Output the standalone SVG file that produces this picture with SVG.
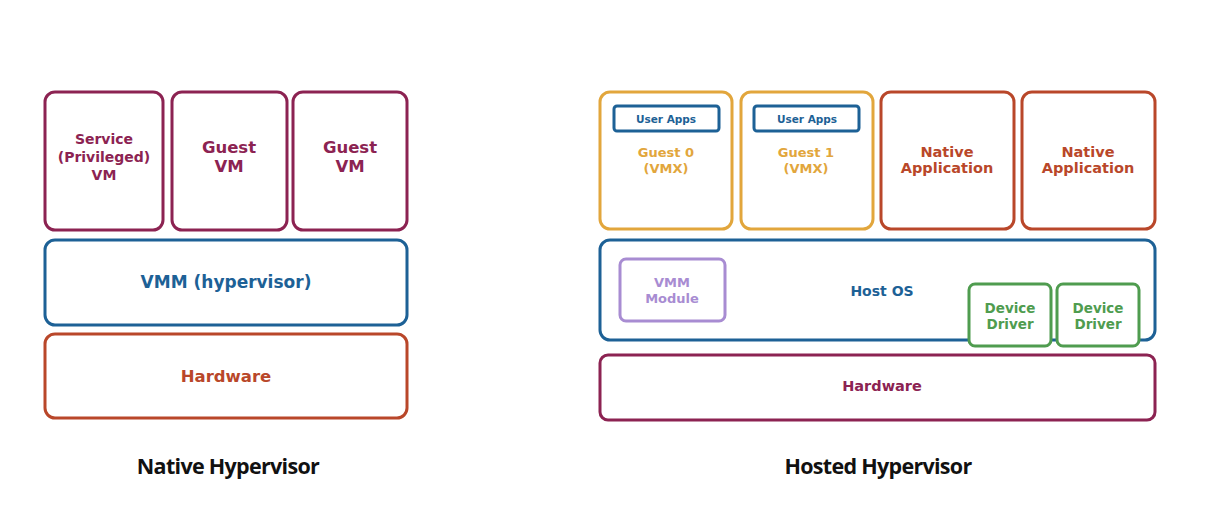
<svg xmlns="http://www.w3.org/2000/svg" width="1222" height="519" viewBox="0 0 1222 519">
<style>
.b{fill:#fff;stroke-width:3}
.t{font-family:"DejaVu Sans","Liberation Sans",sans-serif;font-weight:bold;text-anchor:middle}
.m{stroke:#8c2352}.mt{fill:#8c2352}
.bl{stroke:#1d6196}.blt{fill:#1d6196}
.r{stroke:#b9472a}.rt{fill:#b9472a}
.g{stroke:#e2a63c}.gt{fill:#e2a63c}
.p{stroke:#a88cd2}.pt{fill:#a88cd2}
.gr{stroke:#4f9c4f}.grt{fill:#4f9c4f}
.cap{font-family:"Open Sans","Noto Sans",sans-serif;font-weight:bold;font-size:21.5px;fill:#111;text-anchor:middle;letter-spacing:-0.7px}
</style>
<rect width="1222" height="519" fill="#fff"/>
<g id="native">
<g id="service-vm"><rect class="b m" x="45" y="92" width="118" height="138" rx="10"/>
<text class="t mt" font-size="14"><tspan x="104" y="144">Service</tspan><tspan x="104" y="162">(Privileged)</tspan><tspan x="104" y="180">VM</tspan></text></g>
<g id="guest-vm-1"><rect class="b m" x="172" y="92" width="115" height="138" rx="10"/>
<text class="t mt" font-size="16.5"><tspan x="229" y="153">Guest</tspan><tspan x="229" y="172">VM</tspan></text></g>
<g id="guest-vm-2"><rect class="b m" x="293" y="92" width="114" height="138" rx="10"/>
<text class="t mt" font-size="16.5"><tspan x="350" y="153">Guest</tspan><tspan x="350" y="172">VM</tspan></text></g>
<g id="vmm"><rect class="b bl" x="45" y="240" width="362" height="85" rx="10"/>
<text class="t blt" font-size="17" x="226" y="288">VMM (hypervisor)</text></g>
<g id="hardware-native"><rect class="b r" x="45" y="334" width="362" height="84" rx="10"/>
<text class="t rt" font-size="16.5" x="226" y="382">Hardware</text></g>
</g>
<g id="hosted">
<g id="guest0"><rect class="b g" x="600" y="92" width="132" height="137" rx="10"/>
<rect class="b bl" x="614" y="106" width="105" height="25" rx="3" stroke-width="2.5"/>
<text class="t blt" font-size="10.5" x="666" y="123">User Apps</text>
<text class="t gt" font-size="13"><tspan x="666" y="157">Guest 0</tspan><tspan x="666" y="173">(VMX)</tspan></text></g>
<g id="guest1"><rect class="b g" x="741" y="92" width="132" height="137" rx="10"/>
<rect class="b bl" x="754" y="106" width="105" height="25" rx="3" stroke-width="2.5"/>
<text class="t blt" font-size="10.5" x="807" y="123">User Apps</text>
<text class="t gt" font-size="13"><tspan x="806" y="157">Guest 1</tspan><tspan x="806" y="173">(VMX)</tspan></text></g>
<g id="native-app-1"><rect class="b r" x="881" y="92" width="133" height="137" rx="10"/>
<text class="t rt" font-size="14.5"><tspan x="947" y="157">Native</tspan><tspan x="947" y="173">Application</tspan></text></g>
<g id="native-app-2"><rect class="b r" x="1022" y="92" width="133" height="137" rx="10"/>
<text class="t rt" font-size="14.5"><tspan x="1088" y="157">Native</tspan><tspan x="1088" y="173">Application</tspan></text></g>
<g id="host-os"><rect class="b bl" x="600" y="240" width="555" height="100" rx="10"/>
<text class="t blt" font-size="14" x="882" y="296">Host OS</text></g>
<g id="vmm-module"><rect class="b p" x="620" y="259" width="105" height="62" rx="6"/>
<text class="t pt" font-size="13"><tspan x="672" y="287">VMM</tspan><tspan x="672" y="303">Module</tspan></text></g>
<g id="device-driver-1"><rect class="b gr" x="969" y="284" width="82" height="62" rx="6"/>
<text class="t grt" font-size="13.5"><tspan x="1010" y="313">Device</tspan><tspan x="1010" y="329">Driver</tspan></text></g>
<g id="device-driver-2"><rect class="b gr" x="1057" y="284" width="82" height="62" rx="6"/>
<text class="t grt" font-size="13.5"><tspan x="1098" y="313">Device</tspan><tspan x="1098" y="329">Driver</tspan></text></g>
<g id="hardware-hosted"><rect class="b m" x="600" y="355" width="555" height="65" rx="8"/>
<text class="t mt" font-size="14.5" x="882" y="391">Hardware</text></g>
</g>
<g id="connectors"></g>
<text class="cap" x="228" y="474">Native Hypervisor</text>
<text class="cap" x="878" y="474">Hosted Hypervisor</text>
</svg>
